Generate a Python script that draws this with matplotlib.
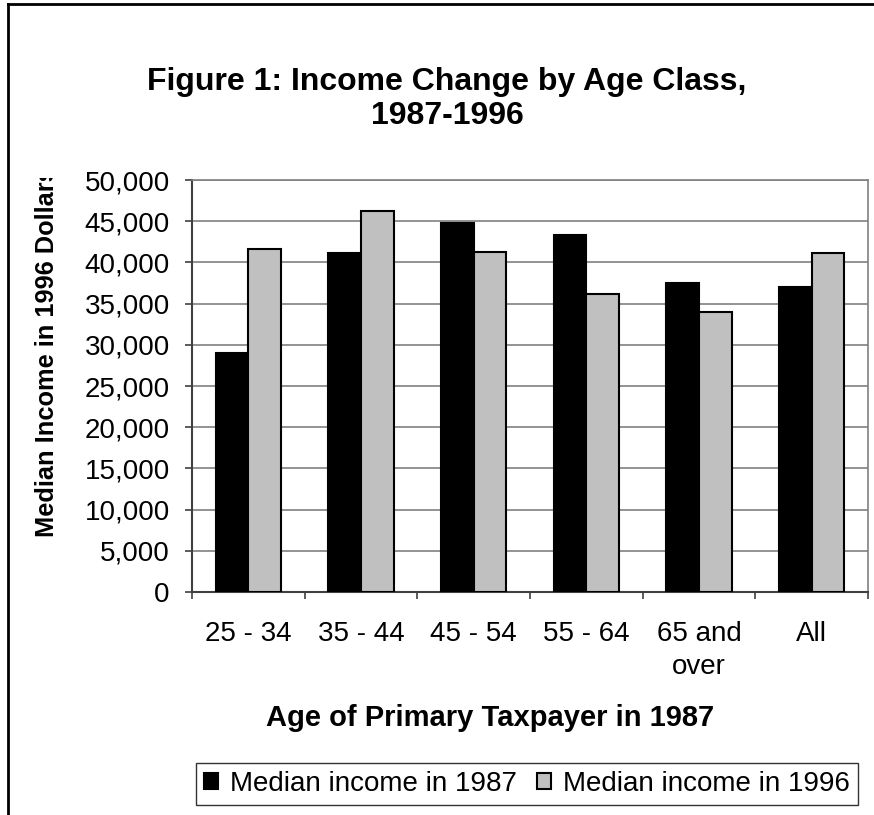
import numpy as np
import matplotlib
matplotlib.use("Agg")
import matplotlib.pyplot as plt
from matplotlib.lines import Line2D
from matplotlib.transforms import Bbox, TransformedBbox
from matplotlib.ticker import FuncFormatter

plt.rcParams['font.family'] = ['Liberation Sans', 'DejaVu Sans']

categories = ["25 - 34", "35 - 44", "45 - 54", "55 - 64", "65 and\nover", "All"]
income_1987 = [29000, 41100, 44800, 43300, 37500, 37000]
income_1996 = [41600, 46200, 41300, 36200, 34000, 41100]
labels = ["Median income in 1987", "Median income in 1996"]

W, H = 874, 815
fig = plt.figure(figsize=(W / 100, H / 100), dpi=100)

# axes box in pixels: left 192, right 868, top 180, bottom 592
ax = fig.add_axes([192 / W, 1 - 592 / H, 676 / W, 412 / H])

x = np.arange(len(categories))
w = 0.29
b1 = ax.bar(x - w / 2, income_1987, w, color="black", edgecolor="black", linewidth=1.5, zorder=3)
b2 = ax.bar(x + w / 2, income_1996, w, color="#c0c0c0", edgecolor="black", linewidth=1.5, zorder=3)

ax.set_xlim(-0.5, len(categories) - 0.5)
ax.set_ylim(0, 50000)
ax.set_yticks(np.arange(0, 50001, 5000))
ax.yaxis.set_major_formatter(FuncFormatter(lambda v, p: f"{int(v):,}"))
ax.yaxis.grid(True, color="#808080", linewidth=1.2, zorder=0)
ax.set_axisbelow(True)

# ticks at category boundaries, labels at centres
ax.set_xticks(np.arange(-0.5, len(categories), 1.0))
ax.set_xticklabels([])
ax.set_xticks(x, minor=True)
ax.set_xticklabels(categories, minor=True, fontsize=20, linespacing=1.35)
ax.tick_params(axis="x", which="major", length=5, width=1.2, color="#404040", direction="out")
ax.tick_params(axis="x", which="minor", length=0, pad=21)
ax.tick_params(axis="y", length=5, width=1.2, color="#404040", direction="out", pad=11, labelsize=20)

for s in ["top", "right"]:
    ax.spines[s].set_color("#808080")
    ax.spines[s].set_linewidth(1.2)
for s in ["left", "bottom"]:
    ax.spines[s].set_color("#404040")
    ax.spines[s].set_linewidth(1.5)

fig.text(447 / W, 1 - 99 / H, "Figure 1: Income Change by Age Class,\n1987-1996",
         ha="center", va="center", fontsize=23, fontweight="bold", linespacing=1.2)

# y label is cut off at the top in the original
ylab = fig.text(47 / W, 1 - 537 / H, "Median Income in 1996 Dollars", rotation=90,
                ha="center", va="bottom", fontsize=18.3, fontweight="bold")
ylab.set_clip_box(TransformedBbox(Bbox([[0, 0], [1, 1 - 178 / H]]), fig.transFigure))
ylab.set_clip_on(True)

fig.text(490 / W, 1 - 718 / H, "Age of Primary Taxpayer in 1987",
         ha="center", va="center", fontsize=21, fontweight="bold")

leg = fig.legend([b1, b2], labels, loc="center", bbox_to_anchor=(527 / W, 1 - 784 / H),
                 ncol=2, fontsize=20, frameon=True, fancybox=False, edgecolor="black",
                 handlelength=0.5, handleheight=0.5, handletextpad=0.45, columnspacing=0.7,
                 borderpad=0.3, borderaxespad=0)
leg.get_frame().set_linewidth(1.0)

# outer frame (cut off at right and bottom)
fig.add_artist(Line2D([8 / W, 8 / W], [0, 1 - 4 / H], color="black", linewidth=2, transform=fig.transFigure))
fig.add_artist(Line2D([8 / W, 1], [1 - 4 / H, 1 - 4 / H], color="black", linewidth=2, transform=fig.transFigure))

plt.savefig("out.png", dpi=100)
